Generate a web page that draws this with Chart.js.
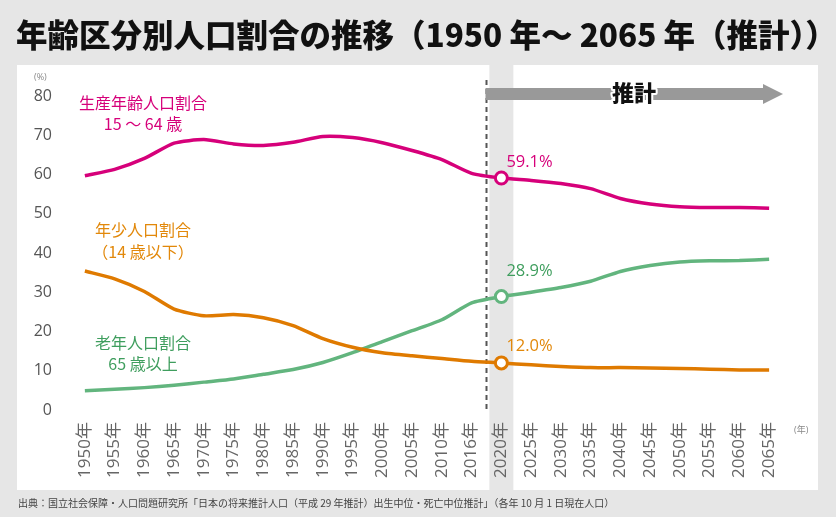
<!DOCTYPE html>
<html><head><meta charset="utf-8">
<script src="https://cdn.jsdelivr.net/npm/chart.js@4/dist/chart.umd.min.js"></script>
<style>html,body{margin:0;padding:0;background:#e6e6e6;overflow:hidden}</style>
</head><body>
<canvas id="c" width="836" height="517" style="display:block;width:836px;height:517px"></canvas>
<script>
const years = ['1950年','1955年','1960年','1965年','1970年','1975年','1980年','1985年','1990年','1995年','2000年','2005年','2010年','2016年','2020年','2025年','2030年','2035年','2040年','2045年','2050年','2055年','2060年','2065年'];
const workingAge = [59.7,61.3,64.1,68.0,68.9,67.8,67.4,68.2,69.7,69.4,68.1,66.1,63.8,60.3,59.1,58.5,57.7,56.4,53.9,52.5,51.8,51.6,51.6,51.4];
const youth      = [35.4,33.4,30.2,25.7,24.0,24.3,23.5,21.5,18.2,16.0,14.6,13.8,13.1,12.4,12.0,11.5,11.1,10.8,10.8,10.7,10.6,10.4,10.2,10.2];
const elderly    = [4.9,5.3,5.7,6.3,7.1,7.9,9.1,10.3,12.1,14.6,17.4,20.2,23.0,27.3,28.9,30.0,31.2,32.8,35.3,36.8,37.7,38.0,38.1,38.4];
const yTickValues = [0,10,20,30,40,50,60,70,80];
const seriesNames = ['生産年齢人口割合','年少人口割合','老年人口割合'];
const seriesSub = ['15 ～ 64 歳','（14 歳以下）','65 歳以上'];
const highlightIndex = 14;
const title = '年齢区分別人口割合の推移（1950 年～ 2065 年（推計））';
const source = '出典：国立社会保障・人口問題研究所「日本の将来推計人口（平成 29 年推計）出生中位・死亡中位推計」（各年 10 月 1 日現在人口）';

const FONT = '"Open Sans","Noto Sans CJK JP",sans-serif';
const CJK = '"Noto Sans CJK JP",sans-serif';
const C_MAG = '#d6007a', C_ORG = '#df7a00', C_GRN = '#62b57e';
const T_MAG = '#d6007a', T_ORG = '#e2880a', T_GRN = '#3f9e5e';

const deco = {
  id:'deco',
  beforeDraw(chart){
    const ctx = chart.ctx, x = chart.scales.x;
    ctx.save();
    ctx.fillStyle = '#e6e6e6'; ctx.fillRect(0,0,836,517);
    ctx.fillStyle = '#ffffff'; ctx.fillRect(17,65,801,425);
    const cx = x.getPixelForValue(highlightIndex);
    ctx.fillStyle = '#e6e6e6'; ctx.fillRect(cx-12,65,24,425);
    ctx.fillStyle = '#111';
    ctx.font = '900 31.5px ' + CJK;
    ctx.textBaseline = 'middle'; ctx.textAlign = 'left';
    ctx.fillText(title, 16, 35);
    ctx.font = '10px ' + CJK; ctx.fillStyle = '#444';
    ctx.fillText(source, 18, 503);
    ctx.font = '9px ' + FONT; ctx.fillStyle = '#888';
    ctx.fillText('(%)', 34, 77);
    ctx.fillText('(年)', 794, 430);
    ctx.restore();
  },
  beforeDatasetsDraw(chart){
    const ctx = chart.ctx, x = chart.scales.x, ca = chart.chartArea;
    const dx = (x.getPixelForValue(highlightIndex-1) + x.getPixelForValue(highlightIndex))/2;
    ctx.save();
    ctx.strokeStyle = '#555'; ctx.lineWidth = 2; ctx.setLineDash([5,4]);
    ctx.beginPath(); ctx.moveTo(dx,80); ctx.lineTo(dx,412); ctx.stroke();
    ctx.setLineDash([]);
    const tip = ca.right - 1, headBase = tip - 20;
    ctx.fillStyle = '#999';
    ctx.fillRect(dx-1, 88, headBase-dx+1, 12);
    ctx.beginPath(); ctx.moveTo(headBase,84); ctx.lineTo(tip,94); ctx.lineTo(headBase,104); ctx.closePath(); ctx.fill();
    ctx.font = '900 22px ' + CJK; ctx.textAlign='center'; ctx.textBaseline='middle';
    ctx.lineWidth = 4; ctx.strokeStyle = '#fff'; ctx.lineJoin='round';
    ctx.strokeText('推計', 634, 93);
    ctx.fillStyle = '#111'; ctx.fillText('推計', 634, 93);
    ctx.restore();
  },
  afterDatasetsDraw(chart){
    const ctx = chart.ctx, x = chart.scales.x, y = chart.scales.y;
    ctx.save();
    ctx.textAlign = 'center'; ctx.textBaseline = 'middle';
    ctx.font = '16px ' + CJK;
    const lx = 143;
    const lab = [[T_MAG,103,124],[T_ORG,230,252],[T_GRN,343,364]];
    lab.forEach((l,i)=>{ ctx.fillStyle=l[0]; ctx.fillText(seriesNames[i], lx, l[1]); ctx.fillText(seriesSub[i], lx, l[2]); });
    ctx.textAlign = 'left'; ctx.font = '16.5px ' + FONT;
    const px = x.getPixelForValue(highlightIndex) + 5;
    const vals = [[workingAge,T_MAG,16],[elderly,T_GRN,25],[youth,T_ORG,17]];
    vals.forEach(v=>{
      const val = v[0][highlightIndex];
      ctx.fillStyle = v[1];
      ctx.fillText(val.toFixed(1)+'%', px, y.getPixelForValue(val) - v[2]);
    });
    ctx.restore();
  }
};

const pr = c => c.dataIndex === highlightIndex ? 6 : 0;
function ds(data, color){
  return {data, borderColor:color, backgroundColor:'#fff', borderWidth:3.5, tension:0.2,
    pointRadius:pr, pointHoverRadius:pr, pointBorderWidth:3, pointBackgroundColor:'#fff', pointBorderColor:color};
}

new Chart(document.getElementById('c'), {
  type:'line',
  data:{labels:years, datasets:[ds(workingAge,C_MAG), ds(youth,C_ORG), ds(elderly,C_GRN)]},
  options:{
    responsive:false, animation:false, devicePixelRatio:1,
    layout:{padding:{left:0,right:52,top:96,bottom:0}},
    plugins:{legend:{display:false}, tooltip:{enabled:false}},
    scales:{
      x:{offset:true, grid:{display:false, drawTicks:false}, border:{display:false},
        ticks:{autoSkip:false, maxRotation:90, minRotation:90, padding:12, color:'#666', font:{family:FONT, size:17}},
        afterFit(s){ s.height = 107; }},
      y:{min:0, max:80, grid:{display:false, drawTicks:false}, border:{display:false},
        afterBuildTicks(s){ s.ticks = yTickValues.map(v=>({value:v})); },
        ticks:{padding:18, color:'#555', font:{family:FONT, size:16}},
        afterFit(s){ s.width = 70; }}
    }
  },
  plugins:[deco]
});
</script>
</body></html>
